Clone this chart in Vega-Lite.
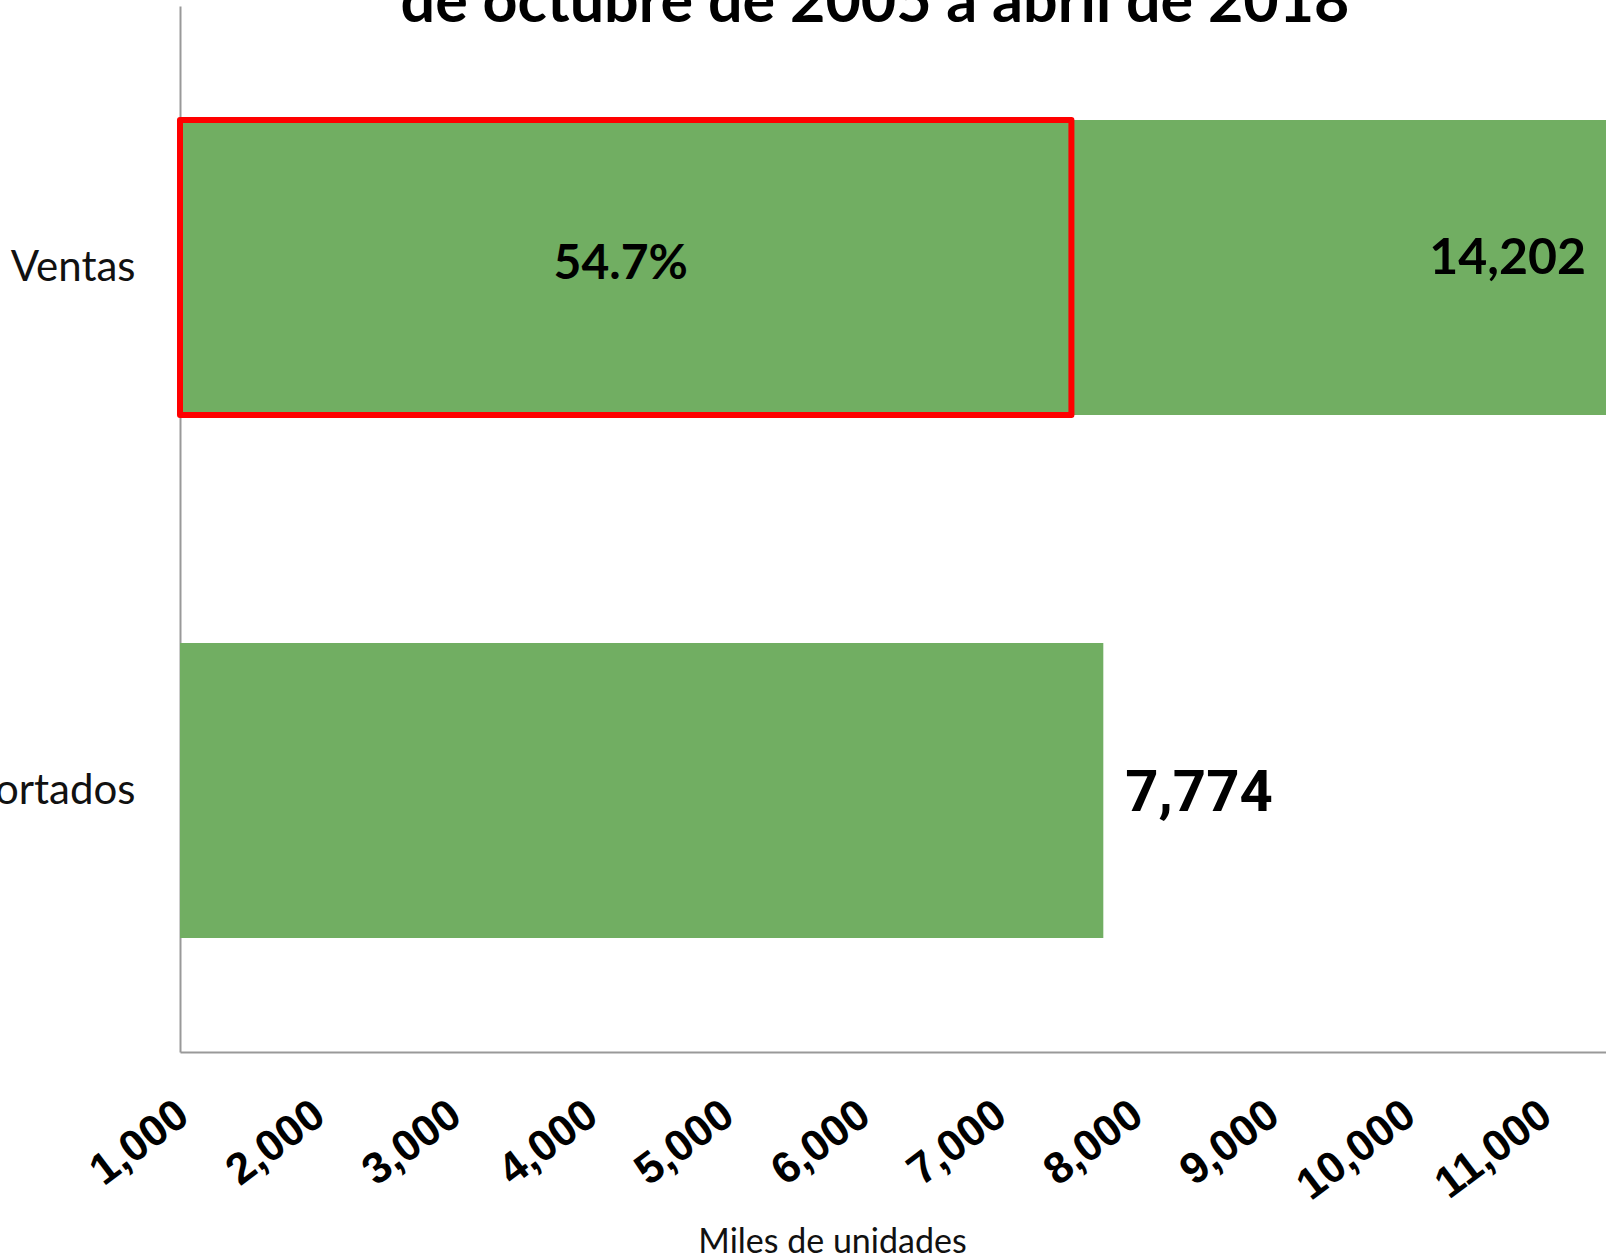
{
  "$schema": "https://vega.github.io/schema/vega-lite/v6.json",
  "autosize": {"type": "none"},
  "padding": {"left": 180, "top": 6, "right": 0, "bottom": 205},
  "width": 1426,
  "height": 1046,
  "background": "white",
  "title": {
    "text": "de octubre de 2005 a abril de 2018",
    "anchor": "middle",
    "frame": "group",
    "orient": "top",
    "offset": -77,
    "dx": -18,
    "baseline": "alphabetic",
    "font": "Lato",
    "fontSize": 61,
    "fontWeight": "bold",
    "color": "#000000"
  },
  "datasets": {
    "barras": [
      {"categoria": "Ventas", "valor": 14202},
      {"categoria": "Importados", "valor": 7774}
    ],
    "recuadro": [
      {"categoria": "Ventas", "desde": 1000, "hasta": 7540, "etiqueta": "54.7%"}
    ]
  },
  "layer": [
    {
      "data": {"name": "barras"},
      "mark": {"type": "bar", "color": "#71AE62"},
      "encoding": {
        "x": {
          "field": "valor",
          "type": "quantitative",
          "scale": {"domain": [1000, 11462], "clamp": true, "nice": false, "zero": false},
          "axis": {
            "values": [1000, 2000, 3000, 4000, 5000, 6000, 7000, 8000, 9000, 10000, 11000],
            "format": ",.0f",
            "labelAngle": -37,
            "labelFont": "Liberation Sans",
            "labelFontWeight": "bold",
            "labelFontSize": 44,
            "labelColor": "#000000",
            "labelPadding": 40,
            "labelOffset": -10,
            "labelOverlap": false,
            "labelBound": false,
            "labelFlush": false,
            "labelLimit": 0,
            "ticks": false,
            "tickSize": 0,
            "grid": false,
            "domainColor": "#999999",
            "domainWidth": 2,
            "title": "Miles de unidades",
            "titleFont": "Lato",
            "titleFontWeight": "normal",
            "titleFontSize": 34,
            "titleColor": "#111111",
            "titleX": 652,
            "titleY": 200,
            "titleAlign": "center",
            "titleBaseline": "alphabetic"
          }
        },
        "y": {
          "field": "categoria",
          "type": "nominal",
          "sort": ["Ventas", "Importados"],
          "scale": {"paddingInner": 0.436, "paddingOuter": 0.218},
          "axis": {
            "title": null,
            "ticks": false,
            "labelFont": "Lato",
            "labelFontSize": 42,
            "labelColor": "#111111",
            "labelPadding": 45,
            "labelLimit": 0,
            "domainColor": "#999999",
            "domainWidth": 2
          }
        }
      }
    },
    {
      "data": {"name": "barras"},
      "transform": [{"filter": "datum.categoria === 'Ventas'"}],
      "mark": {"type": "text", "align": "right", "baseline": "middle", "dx": -20, "dy": -9, "font": "Lato", "fontWeight": "bold", "fontSize": 50, "color": "#000000"},
      "encoding": {
        "x": {"field": "valor", "type": "quantitative"},
        "y": {"field": "categoria", "type": "nominal", "sort": ["Ventas", "Importados"]},
        "text": {"field": "valor", "type": "quantitative", "format": ",.0f"}
      }
    },
    {
      "data": {"name": "barras"},
      "transform": [{"filter": "datum.categoria === 'Importados'"}],
      "mark": {"type": "text", "align": "left", "baseline": "middle", "dx": 22, "dy": 3, "font": "Roboto", "fontWeight": "bold", "fontSize": 58, "color": "#000000"},
      "encoding": {
        "x": {"field": "valor", "type": "quantitative"},
        "y": {"field": "categoria", "type": "nominal", "sort": ["Ventas", "Importados"]},
        "text": {"field": "valor", "type": "quantitative", "format": ",.0f"}
      }
    },
    {
      "data": {"name": "recuadro"},
      "mark": {"type": "rect", "fill": null, "fillOpacity": 0, "stroke": "#FF0000", "strokeWidth": 6, "strokeJoin": "round"},
      "encoding": {
        "x": {"field": "desde", "type": "quantitative"},
        "x2": {"field": "hasta"},
        "y": {"field": "categoria", "type": "nominal", "sort": ["Ventas", "Importados"]}
      }
    },
    {
      "data": {"name": "recuadro"},
      "transform": [{"fold": ["desde", "hasta"], "as": ["borde", "pos"]}],
      "mark": {"type": "text", "align": "center", "baseline": "middle", "dx": -5, "dy": -3, "font": "Lato", "fontWeight": "bold", "fontSize": 48, "color": "#000000"},
      "encoding": {
        "x": {"aggregate": "mean", "field": "pos", "type": "quantitative"},
        "y": {"field": "categoria", "type": "nominal", "sort": ["Ventas", "Importados"]},
        "text": {"field": "etiqueta", "type": "nominal"}
      }
    }
  ],
  "config": {
    "view": {"stroke": null}
  }
}
